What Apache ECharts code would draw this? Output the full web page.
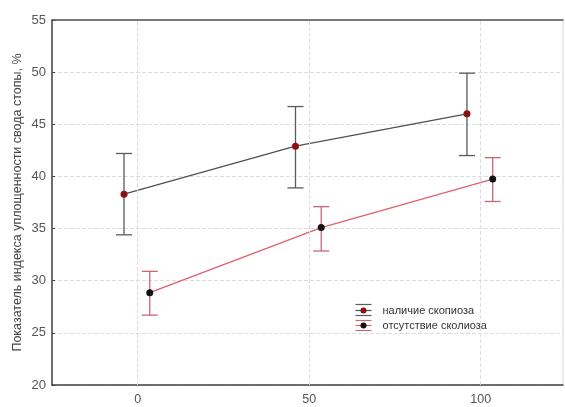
<!DOCTYPE html>
<html><head><meta charset="utf-8">
<script src="https://cdn.jsdelivr.net/npm/echarts@6/dist/echarts.min.js"></script>
<style>html,body{margin:0;padding:0;background:#fff}#c{width:565px;height:407px}</style>
</head><body><div id="c"></div>
<script>
// Data
const xTicks = [0, 50, 100];
const seriesNames = ['наличие скопиоза', 'отсутствие сколиоза'];
const xBlack = [-4, 46, 96];
const meanBlack = [38.3, 42.9, 46.0];
const upperBlack = [42.2, 46.7, 49.9];
const lowerBlack = [34.4, 38.9, 42.0];
const xRed = [3.5, 53.5, 103.5];
const meanRed = [28.85, 35.1, 39.75];
const upperRed = [30.9, 37.1, 41.8];
const lowerRed = [26.7, 32.85, 37.6];

const FONT = 'Liberation Sans, Arial, sans-serif';
const chart = echarts.init(document.getElementById('c'), null, {renderer: 'canvas'});

function errData(xs, lo, hi) { return xs.map((x, i) => [x, lo[i], hi[i]]); }
function errRender(color) {
  return function (params, api) {
    const x = api.value(0);
    const lo = api.coord([x, api.value(1)]);
    const hi = api.coord([x, api.value(2)]);
    const hw = 8;
    const st = {stroke: color, lineWidth: 1.3};
    return {type: 'group', children: [
      {type: 'line', shape: {x1: lo[0], y1: lo[1], x2: hi[0], y2: hi[1]}, style: st},
      {type: 'line', shape: {x1: lo[0] - hw, y1: lo[1], x2: lo[0] + hw, y2: lo[1]}, style: st},
      {type: 'line', shape: {x1: hi[0] - hw, y1: hi[1], x2: hi[0] + hw, y2: hi[1]}, style: st}
    ]};
  };
}

const blackLine = '#505050', blackErr = '#5a5a5a', blackMark = '#8b1010';
const redLine = '#e0606e', redErr = '#c86876', redMark = '#111';

const option = {
  animation: false,
  backgroundColor: '#fff',
  grid: {left: 52, right: 2, top: 20, bottom: 22, show: true, borderColor: '#d8d8d8', borderWidth: 1},
  xAxis: [{
    type: 'value', min: -25, max: 124, position: 'bottom',
    axisLine: {show: true, onZero: false, lineStyle: {color: '#444', width: 1.5}},
    axisTick: {show: true, inside: true, length: 3, customValues: xTicks, lineStyle: {color: '#444'}},
    axisLabel: {customValues: xTicks, color: '#555', fontSize: 12.5, fontFamily: FONT, margin: 8},
    splitLine: {show: false}
  }, {
    type: 'value', min: -25, max: 124, position: 'top',
    axisLine: {show: true, onZero: false, lineStyle: {color: '#555', width: 1.5}},
    axisTick: {show: false}, axisLabel: {show: false}, splitLine: {show: false}
  }],
  yAxis: {
    type: 'value', min: 20, max: 55, interval: 5, position: 'left',
    name: 'Показатель индекса уплощенности свода стопы, %',
    nameLocation: 'middle', nameGap: 28, nameRotate: 90, nameMoveOverlap: false,
    nameTextStyle: {color: '#444', fontSize: 12.5, fontFamily: FONT},
    axisLine: {show: true, onZero: false, lineStyle: {color: '#444', width: 1.5}},
    axisTick: {show: true, inside: true, length: 3, lineStyle: {color: '#444'}},
    axisLabel: {color: '#555', fontSize: 13, fontFamily: FONT, margin: 6},
    splitLine: {show: true, lineStyle: {color: '#dcdcdc', type: [4, 2]}}
  },
  series: [
    {
      type: 'line', name: 'grid', data: [], silent: true,
      markLine: {silent: true, symbol: 'none', label: {show: false},
        lineStyle: {color: '#dcdcdc', type: [4, 2], width: 1},
        data: xTicks.map(v => ({xAxis: v}))}
    },
    {type: 'custom', name: seriesNames[0], renderItem: errRender(blackErr), data: errData(xBlack, lowerBlack, upperBlack), z: 3},
    {type: 'custom', name: seriesNames[1], renderItem: errRender(redErr), data: errData(xRed, lowerRed, upperRed), z: 3},
    {type: 'line', name: seriesNames[0], data: xBlack.map((x, i) => [x, meanBlack[i]]),
      lineStyle: {color: blackLine, width: 1.3}, symbol: 'circle', symbolSize: 7,
      itemStyle: {color: blackMark, borderWidth: 0}, z: 4},
    {type: 'line', name: seriesNames[1], data: xRed.map((x, i) => [x, meanRed[i]]),
      lineStyle: {color: redLine, width: 1.3}, symbol: 'circle', symbolSize: 7,
      itemStyle: {color: redMark, borderWidth: 0}, z: 4}
  ],
  graphic: [
    {type: 'group', left: 353, top: 302, children: [
      {type: 'line', shape: {x1: 0, y1: 1, x2: 16, y2: 1}, style: {stroke: blackErr, lineWidth: 1.2}},
      {type: 'line', shape: {x1: 0, y1: 7, x2: 16, y2: 7}, style: {stroke: blackLine, lineWidth: 1.2}},
      {type: 'circle', shape: {cx: 8, cy: 7, r: 3}, style: {fill: blackMark}},
      {type: 'line', shape: {x1: 0, y1: 12, x2: 16, y2: 12}, style: {stroke: blackErr, lineWidth: 1.2}},
      {type: 'line', shape: {x1: 0, y1: 17, x2: 16, y2: 17}, style: {stroke: redErr, lineWidth: 1.2}},
      {type: 'line', shape: {x1: 0, y1: 22, x2: 16, y2: 22}, style: {stroke: redLine, lineWidth: 1.2}},
      {type: 'circle', shape: {cx: 8, cy: 22, r: 3}, style: {fill: redMark}},
      {type: 'line', shape: {x1: 0, y1: 27, x2: 16, y2: 27}, style: {stroke: redErr, lineWidth: 1.2}},
      {type: 'text', x: 27, y: 7, style: {text: seriesNames[0], fill: '#333', font: '11px ' + FONT, textVerticalAlign: 'middle'}},
      {type: 'text', x: 27, y: 22, style: {text: seriesNames[1], fill: '#333', font: '11px ' + FONT, textVerticalAlign: 'middle'}}
    ]}
  ]
};
chart.setOption(option);
</script></body></html>
